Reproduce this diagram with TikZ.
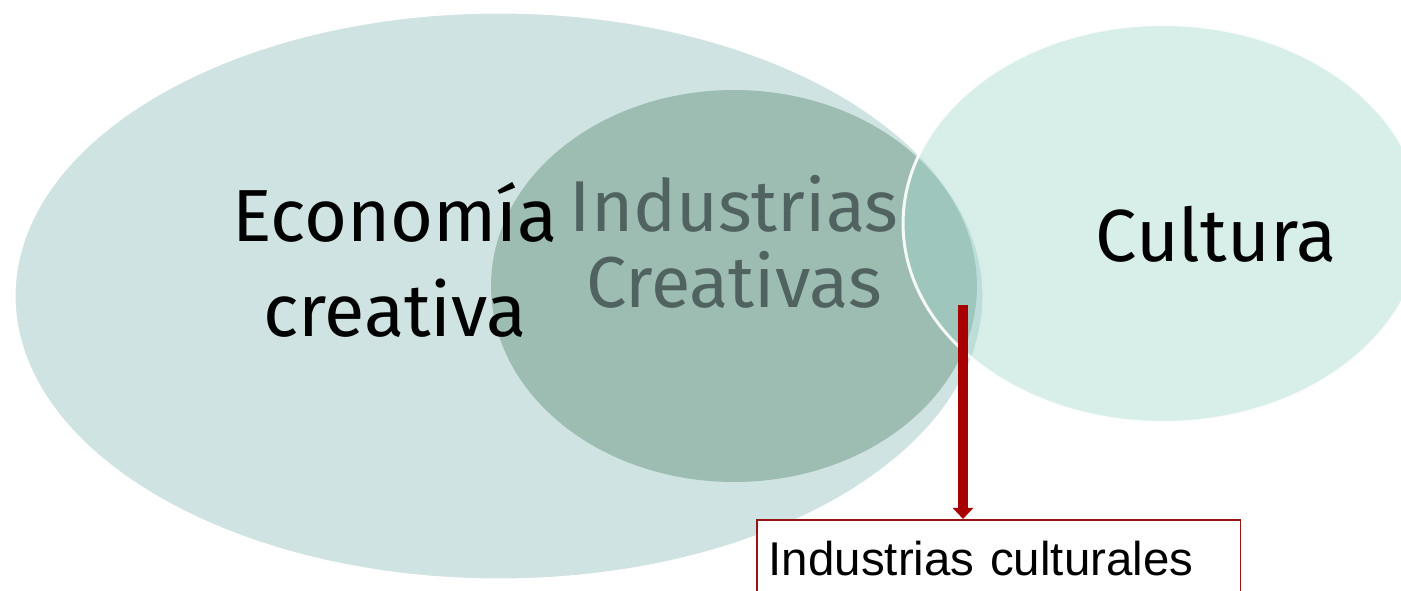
\documentclass[tikz,border=0pt]{standalone}
\usepackage{fontspec}
\setmainfont{Fira Sans}
\newfontfamily\arialfont{Liberation Sans}
\usepackage{xcolor}
\usetikzlibrary{shapes.geometric}
\usetikzlibrary{arrows.meta}
\definecolor{econfill}{RGB}{207,227,226}
\definecolor{indfill}{RGB}{157,188,178}
\definecolor{cultfill}{RGB}{162,214,203}
\definecolor{indtext}{RGB}{80,99,96}
\definecolor{arrowred}{RGB}{168,0,0}
\definecolor{boxred}{RGB}{150,20,20}
\tikzset{>=stealth}

\begin{document}
\begin{tikzpicture}[x=0.02cm, y=-0.02cm,
		bubble/.style={ellipse, inner sep=0pt},
		biglabel/.style={align=center, font=\fontsize{42}{54}\selectfont},
		culturebox/.style={draw=boxred, line width=0.9pt, fill=white,
		text width=9.2cm, inner xsep=0.24cm, minimum height=1.54cm, align=left,
		font=\arialfont\fontsize{27}{32}\selectfont},
		arrowline/.style={draw=arrowred, line width=5.4pt,
		-{Triangle[width=11.4pt,length=6.3pt]}}]
		\clip (0,0) rectangle (1401,591);
		%% Venn
		\node [bubble, fill=econfill, draw=white, line width=1.7pt,
		minimum width=19.4cm, minimum height=11.36cm] (eco) at (499,296) {};
		\node [bubble, fill=indfill, minimum width=9.72cm,
		minimum height=7.84cm] (ind) at (734,286) {};
		\node [bubble, fill=cultfill, fill opacity=0.42, draw=white,
		draw opacity=0.9, line width=1.7pt, minimum width=10.4cm,
		minimum height=7.96cm] (cult) at (1163,223.5) {};
		%% Labels
		\node [biglabel] (ecotext) at (395,260) {Economía\\creativa};
		\node [biglabel, text=indtext, font=\fontsize{41}{43}\selectfont]
		(indtext) at (734,242) {Industrias\\Creativas};
		\node [biglabel, anchor=base] (culttext) at (1216,262) {Cultura};
		%% Industrias culturales
		\node [culturebox, anchor=north west] (indcult) at (756,519)
		{Industrias culturales};
		\coordinate (arrowtop) at (963,305);
		\draw [arrowline] (arrowtop) -- (arrowtop |- indcult.north);
	\end{tikzpicture}
\end{document}
